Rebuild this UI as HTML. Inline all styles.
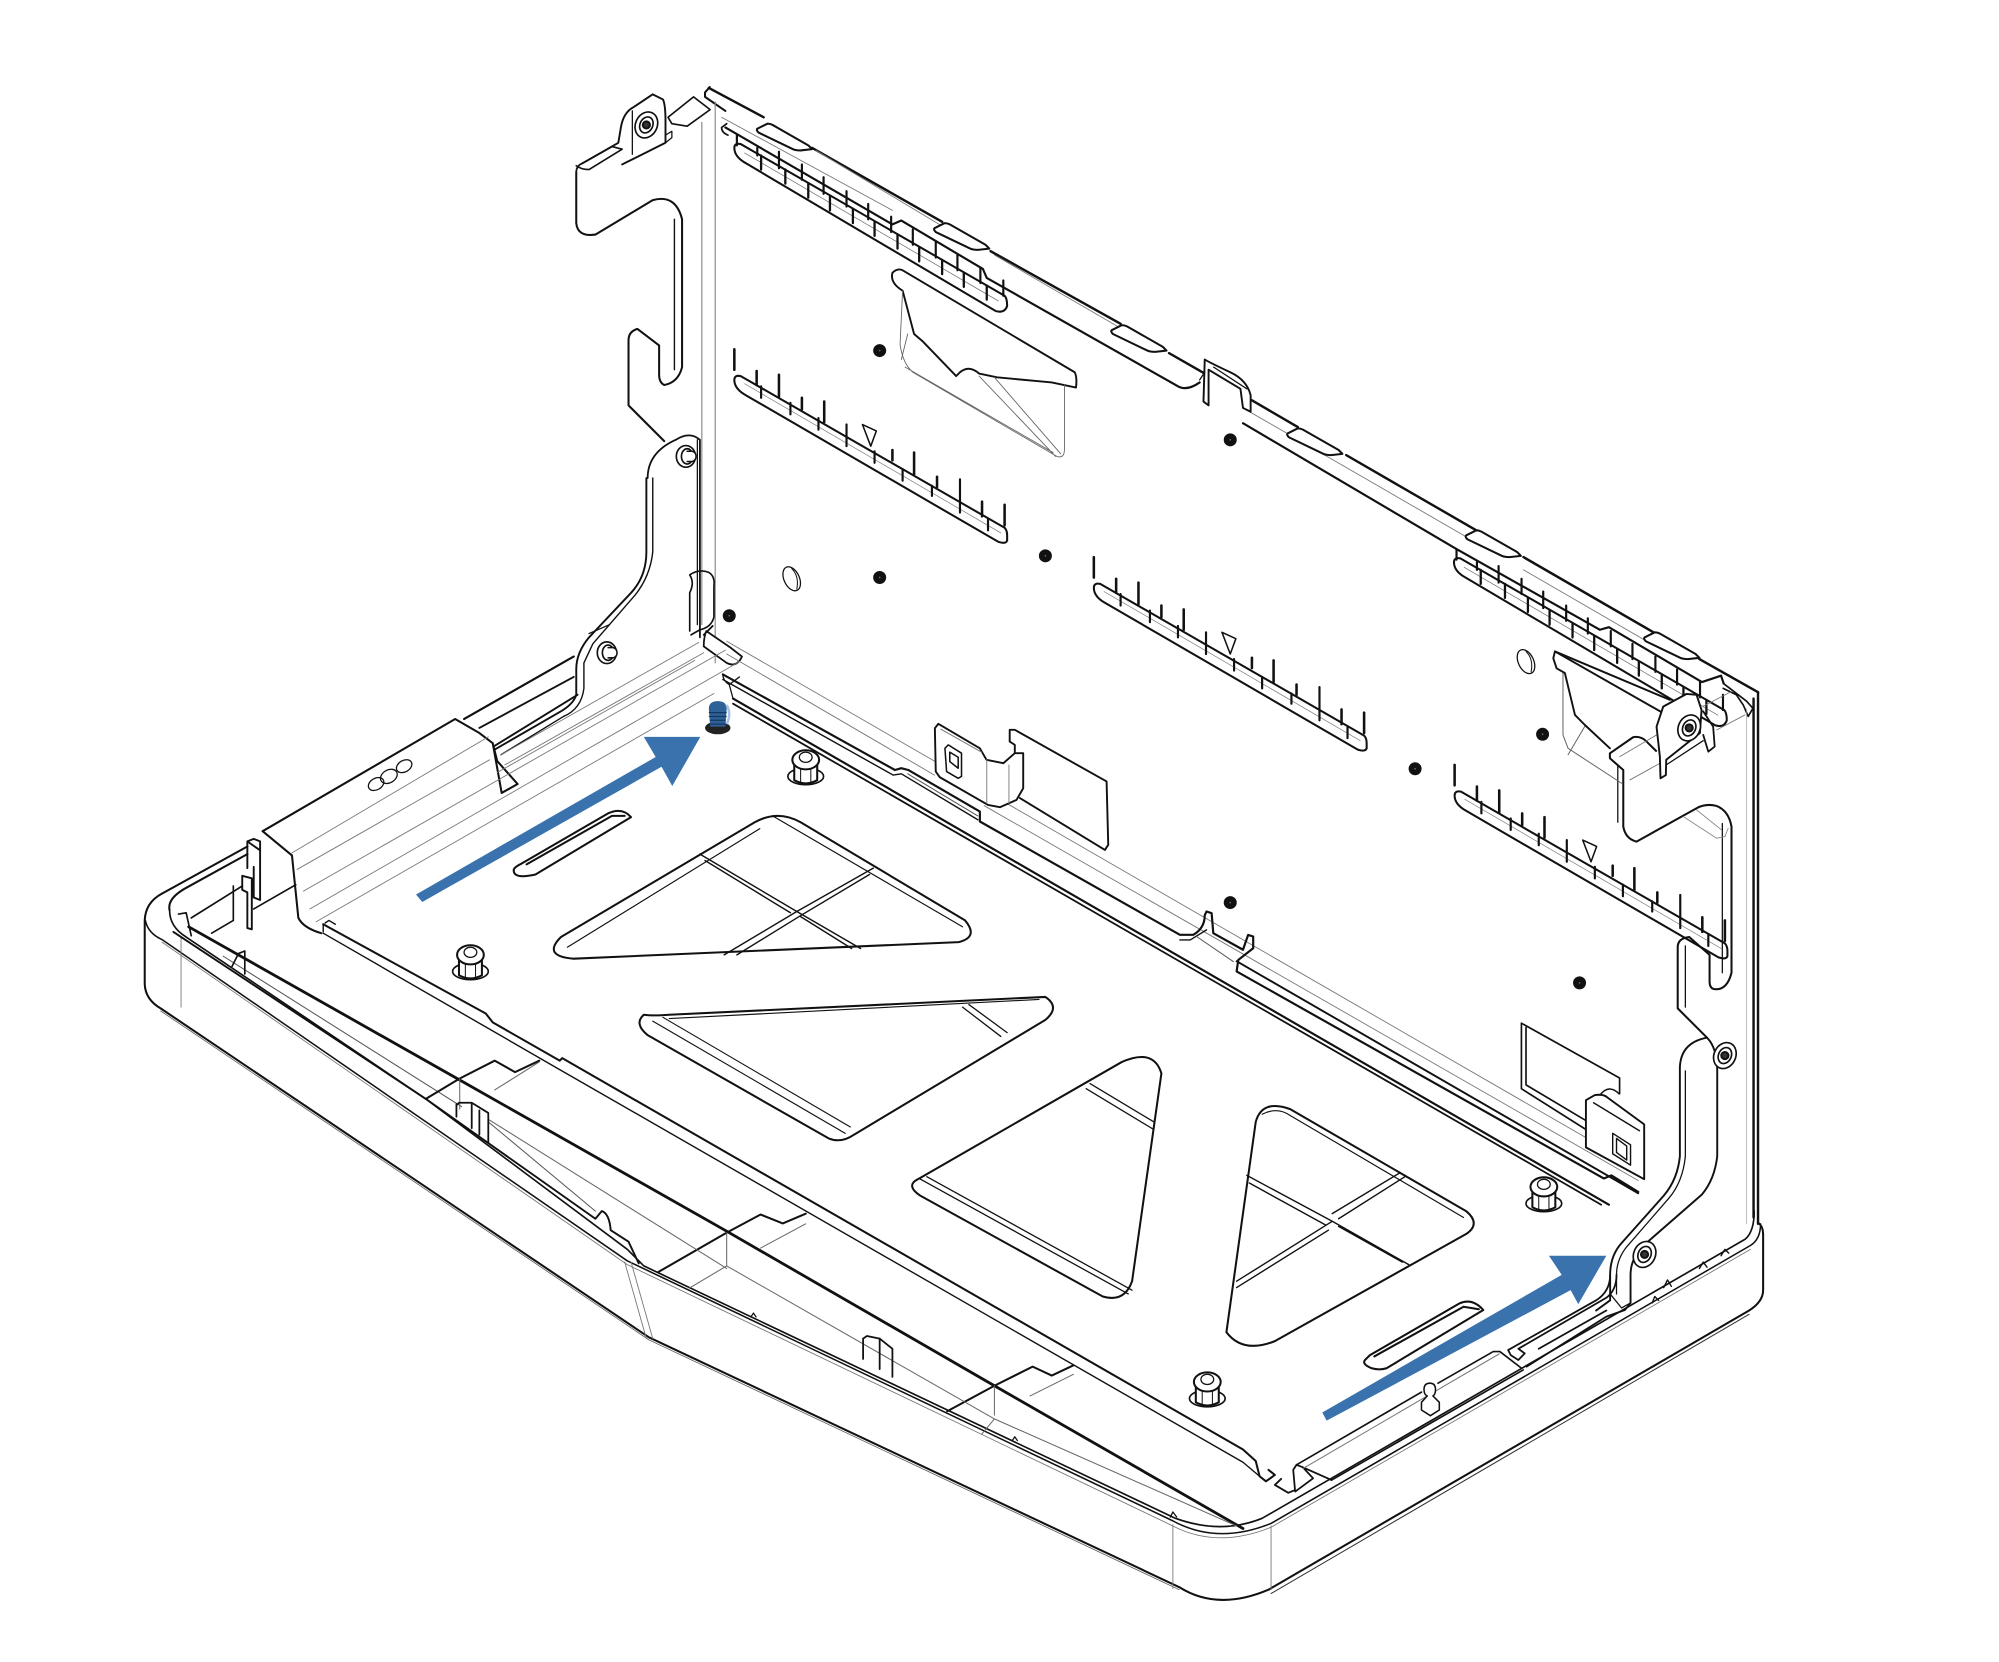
<!DOCTYPE html>
<html><head><meta charset="utf-8"><style>html,body{margin:0;padding:0;background:#fff}svg{display:block}</style></head><body>
<svg xmlns="http://www.w3.org/2000/svg" width="1999" height="1662" viewBox="0 0 1568 1303.7">
<defs>
<g id="slot" fill="none">
<path d="M581,295 L788,414 Q790,416 790,420 V424 Q789,427 783,425 L585,310 Q576,305 576,298 Q576,294 581,295Z"/>
<path d="M584,301 L785,418" stroke="#888" stroke-width=".6"/>
<path d="M597,303V312M620,316V325M642,328V337M664,333V350M686,354V363M708,368V377M731,381V389M753,376V402M775,407V416" stroke-width="1.700"/>
<path d="M576,274V290M593.500,291V302M611,294V311M629,312V321M646.500,315V331M700,353V361M717,355V372M735,374V382M770.300,393.500V405M788,396V412" stroke-width="2"/>
<path d="M676.500,333L687.400,338L683,350Z" stroke-width="1.200"/>
</g>
<g id="ladder" fill="none">
<path d="M581,113 L788,232 Q790,234 790,240 Q788,246 781,244 L585,128 Q576,123 576,116 Q576,112 581,113Z"/>
<path d="M584,120 L783,236" stroke="#777" stroke-width=".6"/>
<path d="M597,122V133M616,133V144M634,144V155M651,154V165M669,164V175M686,174V185M704,184V195M721,194V205M739,204V215M756,214V225M774,224V235" stroke-width="1.800"/>
<path d="M578,106V114M594,116V122M611,119V132M629,129V141M646,139V152M664,150V162M681,160V172M699,170V182M716,180V192M734,190V202M751,200V212M769,210V222M787,220V232" stroke-width="1.700"/>
</g>
<g id="peg" fill="none">
<ellipse cx="0" cy="7" rx="14" ry="6.500" stroke-width="1.300"/>
<path d="M-9,-5 V10 Q0,15 9,10 V-5" fill="#fff"/>
<path d="M-4,0V13M4,0V13" stroke-width=".8"/>
<ellipse cx="0" cy="-6" rx="10.500" ry="7.500" fill="#fff"/>
<ellipse cx="0" cy="-8" rx="5" ry="4" stroke-width="1"/>
</g>
<g id="dot"><circle r="4.300" fill="#111"/><circle r="1.500" fill="#666"/></g>
<g id="screw" fill="none">
<ellipse rx="8.500" ry="10.500" transform="rotate(25)" stroke-width="1.300" fill="#fff"/>
<ellipse rx="5" ry="6.500" transform="rotate(25)" stroke-width="1.300"/>
<circle r="2.800" fill="#333"/>
</g>
<g id="stud" fill="none">
<ellipse rx="7.500" ry="8.500" stroke-width="1.300" fill="#fff"/>
<ellipse cx="1" rx="4.500" ry="6" stroke-width="1.300"/>
<path d="M1,-4 H5 Q8,-3 8,0 Q8,3 5,4 H1" fill="#fff" stroke-width="1.200"/>
</g>
<path id="tab" d="M0,2 L8,-2 Q10,-2 12,-1 L40,15 L43,18 L34,19 Q30,19 28,18 L1,5 Q-1,3 0,2Z" fill="#fff"/>
</defs>

<g fill="none" stroke="#111" stroke-width="1.600" stroke-linejoin="round" stroke-linecap="round">

<!-- TRAY outer -->
<path d="M127,701 Q114,708 113.500,722 V772 Q114,784 126,791 L509,1049 L925,1245 Q955,1264 995,1247 L1372,1028 Q1383,1021 1383,1012 V968 Q1383,962 1379,959"/>
<path d="M127,701 L194,664 M364,564 L450,515" />
<path d="M133,714 Q131,705 145,697 L194,670"/>
<path d="M114,722 Q116,732 127,737 L492,989 L920,1193 Q955,1212 997,1195 L1373,977 Q1381,972 1381,960" stroke-width="1.200"/>
<path d="M133,714 Q133,727 146,735 L334,862 L492,980 L505,993 L922,1191 Q958,1204 990,1191 L1369,972 Q1376,966 1376,950" stroke-width="1.300"/>
<path d="M127,739 L492,992 L920,1197 Q955,1215 997,1198 L1373,980" stroke="#777" stroke-width=".7"/>
<path d="M126,793 L509,1051 L925,1247" stroke="#666" stroke-width=".7"/>
<path d="M997,1250 L1372,1031" stroke="#333" stroke-width=".8"/>
<path d="M142,735V790M920,1196V1246M997,1197V1247M495,990L512,1050M490,990L507,1050" stroke="#777" stroke-width=".7"/>

<!-- inner thick line -->
<path d="M148,727 L358.500,846 L568.600,965 L780,1087 L975,1199" stroke-width="2.200"/>
<path d="M136,731 L334,862 L467,956 L472,950 Q478,952 479,965 L493,974 L501,991" stroke-width="1.500"/>
<path d="M175,750 L362,868 M383,880 L467,950" stroke="#555" stroke-width=".8"/>
<path d="M334,862 L360.600,846 L388,832 L404,841 L423,832 M516,998 L570.400,966.700 L596.600,952.700 L614,959.700 L632,952 M743,1107 L780,1087 L810,1072 L825,1079 L842,1071" />
<path d="M360.600,846V870 M388,855 L423,833 M383,878 L570,995 M570,967V993 M540.600,1010.500 L570,993 M570,993 L780,1113 M596.600,979 L632,960 M780,1087V1110 M770,1125 L780,1113 M808,1095 L842,1078 M780,1113 L970,1197" stroke="#666" stroke-width=".8"/>
<path d="M358,867 L360,865 L370,865 L383,873 V896 M370,865 V885 M358,866 V876 M376,871 V890" stroke-width="1.400"/>
<path d="M677,1050 L680,1048 L690,1050 L700,1058 V1080 M690,1050 V1074 M677,1050 V1066" stroke-width="1.400"/>
<path d="M589,1033l2,-3l2,3M794,1130l2,-3l2,3M918,1190l2,-4l3,4" stroke-width="1"/>
<!-- left details -->
<path d="M194,681 V660 L199,658 L204,660 V706 L199,704 V680 M194,660 L204,667 M190,687 L197.500,689 V729 L194,728 V700 L190,698Z" stroke-width="1.500"/>
<path d="M150,720 L190,695 M183,695 V722 M166,732 L183,722 M199,713 L232,694 M140,717 L146,716 L150,734 M182,758 L187,748 L192,746 V764" stroke-width="1.300"/>
<path d="M364,564 L450,515 M376,571 L450,531 M388,585 L453,545" stroke-width="1.500"/>

<!-- BACK WALL top band -->
<path d="M556,69 L599,92 M637,116 L739,174 M777,197 L879,254 M917,277 L945,293 M982,314 L1018,335 M1056,357 L1158,416 M1195,437 L1297,496 M1333,517 L1379,543" stroke-width="1.900"/>
<path d="M553,76 V72.500 L556.700,68.300 M553,76 L569,87"/>
<path d="M569,100 L700,176 L707,173 L771,211 L774,218 L924,303 Q931,307 941,300 M975,332 L1143,431 L1255,494 L1262,492 L1335,535 L1350,530 L1352,536" stroke-width="1.700"/>
<path d="M566,92 L700,165 M640,118 L740,178 M780,200 L880,258 M975,320 L1150,421 M1195,447 L1290,502" stroke="#777" stroke-width=".7"/>
<path d="M1351.700,536 L1370,550 L1375,555.600 L1371.300,562 L1367.400,553 L1362,545 L1351.700,540 M570,97 L566,100 Q566,104 571,106" stroke-width="1.300"/>
<use href="#tab" x="594" y="99"/><use href="#tab" x="733" y="177"/><use href="#tab" x="872" y="257"/><use href="#tab" x="1010" y="338"/><use href="#tab" x="1150" y="418"/><use href="#tab" x="1290" y="498"/>

<use href="#ladder"/><use href="#ladder" x="564.500" y="325"/>
<use href="#slot"/><use href="#slot" x="282" y="163"/><use href="#slot" x="565" y="326"/>

<!-- vertical corner -->
<path d="M550.500,96 V490 M561,80 V520" stroke="#888" stroke-width=".9"/>
<path d="M1375.500,548 V955 M1379,543 V960" stroke-width="1.900"/>
<path d="M1370,556 V960" stroke="#999" stroke-width=".5"/>

<!-- left top bracket -->
<path d="M524,92 L544,76 L557,86 L539,99 L527,97 Z" fill="#fff" stroke-width="1.300"/>
<path d="M452,135 Q452,130 457,128 L480,115 L488,117 L462,133 Q456,133 452,130" stroke-width="1.300"/>
<path d="M452,135 V175 Q453,186 467,184 L512,157 Q530,152 535,172 V288 Q532,300 521,302 Q517,300 517,294 V271 L500,258 Q493,260 493,267 V318 L521,346" />
<path d="M457,128 L485,112 L487,100 Q489,88 497,84 L512,74 L520,78 Q522,82 522,95 V112 L492,127 L488,129" stroke-width="1.500"/>
<path d="M496,87 V121 M522,106 L527,103 V108 L522,112" stroke-width="1"/>
<path d="M529,172V290" stroke-width="1.100"/>
<use href="#screw" x="507" y="98"/>
<!-- lower left bracket -->
<path d="M508,375 Q508,355 530,345 Q541,338 549,345 V500" stroke-width="1.400"/>
<path d="M507,375 V433 Q507,452 495,465 L462,500 Q452,512 452,525 V545 Q450,552 440,558 L388,588" stroke-width="1.500"/>
<path d="M512,375 V433 Q510,452 498,467 L465,505 L458,520 V540 Q456,556 442,562 L393,592" stroke-width="1.100"/>
<path d="M478,490 L462,497 M547,345 V490" stroke-width="1"/>
<use href="#stud" x="538" y="358"/><use href="#stud" x="476" y="512"/>
<path d="M541,451 Q548,446 556,449 Q561,452 560,460 V484 Q558,492 549,494 L542,498 M541,451 Q545,457 541,465 V495" stroke-width="1.300"/>
<path d="M554,495 L573,508 L582,515 Q578,524 570,520 L552,507 Q552,500 554,495Z M552,498 L559,491" fill="#fff" stroke-width="1.400"/>
<use href="#dot" x="572" y="483"/>

<!-- Bend plate: left flange -->
<path d="M206,652 L357,564 L376,575 L386.500,583 L393.500,622 L406,615 L390,597 L387,585" fill="#fff"/>
<path d="M206,652 L229,671 L234,720 Q238,728 252,732" />
<path d="M229,669 L383,578 M233,682 L384,596 M238,699 L569,510 M243,713 L580,519 M248,723 L560,544 M390,606 L545,518 M393,592 L548,504 M396,600 L552,512" stroke="#777" stroke-width=".7"/>
<ellipse cx="295" cy="615" rx="6.500" ry="4.500" transform="rotate(-30 295 615)" stroke-width="1"/><ellipse cx="305" cy="609" rx="7" ry="5" transform="rotate(-30 305 609)" stroke-width="1"/><ellipse cx="317" cy="601" rx="6.500" ry="4.500" transform="rotate(-30 317 601)" stroke-width="1"/>

<!-- floor back edges -->
<path d="M570,503 L733,597 M772,620 L1285,916 M570,513 L733,608 M772,632 L1285,926" stroke="#777" stroke-width=".7"/>
<path d="M567,529 L702,604 L707,602.600 L712.400,604 L768.600,636.600 V644.400 L925.500,733.300 H936 Q945,728 945,718 L946.400,715 L950.400,716.300 L951.700,732 L975,745 L979,733.400 L983,734.600 V743.800 L971.300,753 L970,762 L1258,924.400 L1264,922 L1285,935" stroke-width="1.700"/>
<path d="M567,533 L700.600,608 L707,607 L767,643 M925.500,737.300 H933.600 L946.400,729.400" stroke-width="1.100"/>
<path d="M938.600,734.600 L967.400,754.300 M712,607 L767,640" stroke="#555" stroke-width=".8"/>
<path d="M970,754 L1285,936" stroke-width="1.500"/>
<path d="M575,548 L1262,945" stroke-width="1.700"/>
<path d="M575,552 L1256,945" stroke-width="1.400"/>
<path d="M567,529 Q567,534 572,537 L580,531 M575,548 L572,537" stroke-width="1"/>

<!-- left clip & panel -->
<path d="M792,572.500 H796 L868,613 L869.300,662.700 L866.700,666.700 L800,626 M792,572.500 V581.700 L796,584.300 V590.800" stroke-width="1.500"/>
<path d="M733.300,571.200 L736,567.800 L768.600,587 L773.800,596 L787,598.700 L796,590.800 L802.600,590.800 V618.300 L797.400,627.400 L784.300,633.200 L775,631.400 L737.200,609.700 L734,605.200 Z" fill="#fff" stroke-width="1.500"/>
<path d="M741.200,587 L743.800,584.300 L754.200,590.800 V609 L751.600,610.500 L742.500,605.200 Z M745,590 L751.600,594 V602.600 L745,597.400Z" stroke-width="1.200"/>
<path d="M738,572 L770,590" stroke="#777" stroke-width=".8"/>
<path d="M774,596V630M791.400,600V630" stroke="#888" stroke-width=".8"/>

<!-- right clip & panel -->
<path d="M1193.400,802.600 L1270.400,845.600 V858 M1193.400,802.600 V854 L1244,886 M1197,806 V851 L1244,879" stroke-width="1.300"/>
<path d="M1244,863 L1251,859 Q1258,858 1261,861 L1289.700,882 V925 L1244,900Z" fill="#fff" stroke-width="1.500"/>
<path d="M1250,865 L1286,887 M1265,889 L1279,898 V914 L1265,905Z M1268,893 L1276,899 V910 L1268,904Z" stroke-width="1.100"/>
<path d="M1255,859 Q1262,850 1270,858" stroke-width="1.200"/>

<!-- floor front edge -->
<path d="M253.500,725 L381,795 L386.500,802 L439,832 L441,830 L975,1137 L985,1146 L988,1158 L993,1162 L1000,1157 L995,1153" />
<path d="M253.500,732 L439,839 L975,1147 L988,1158" stroke-width="1.100"/>
<path d="M253.500,725 V731 M255,724 L258,722 L263,725" stroke-width="1.100"/>
<!-- hook lower corner -->
<path d="M1017,1149 L1014.400,1153 L1015.800,1168.800 L1010.500,1171 L1000,1164.800 L1005,1160 M1017,1149 L1022,1151 L1030,1159.600 L1016,1170 M1022,1151 L1044.500,1161" stroke-width="1.400"/>
<path d="M1017,1149 L1115,1092 M1128,1085 L1171.300,1060.200 H1176.500 L1193.500,1073.300" stroke-width="1.300"/>
<path d="M1022,1152 L1176,1062" stroke="#777" stroke-width=".8"/>
<path d="M1044.500,1161 L1194.800,1074.600" stroke-width="1.300"/>
<path d="M1183,1059 L1252,1020 Q1263,1013 1263,1000 M1183,1059 L1185,1063 L1191,1066.800 L1196,1061.600 L1191,1058 L1260,1018 Q1268,1012 1268,1000 M1197.500,1072 L1260,1032.800 L1274.600,1027.600 L1279,1022 M1207,1058 L1260,1028" stroke-width="1.400"/>
<path d="M1121.600,1085 Q1126,1085 1126,1090 Q1126,1094 1124,1095 L1129,1100 V1106 L1122,1110.500 L1115,1106 V1100 L1119.500,1095 Q1117,1094 1117,1090 Q1117,1085 1121.600,1085Z" fill="#fff" stroke-width="1.200"/>
<path d="M1296,1022l2,-5l3,3M1305,1010l3,-6l3,5M1333,995l3,-5l3,4M1350,985l3,-5l3,3" stroke-width="1.100"/>

<!-- Cutouts -->
<path d="M440,735 L592,645 Q610,635 628,645 L757,722 Q768,735 752,739 L450,752 Q425,750 440,735Z"/>
<path d="M445,743 L596,650 M606,640 L755,727" stroke-width=".9"/>
<path d="M549,670 L625,715 L675,744 M553,675 L620,716 M685,681 L625,715 L568,749 M682,686 L630,717 L578,749 M628,719 L668,744" stroke-width="1.100"/>

<path d="M505,796 Q497,803 508,812 L650,893 Q660,897 670,890 L820,800 Q832,790 820,782 L525,796 Q512,797 505,796Z"/>
<path d="M512,801 L663,889 M520,798 L667,884 M525,799 L815,784" stroke-width=".9"/>
<path d="M755,790 L785,813 M760,788 L790,810" stroke-width="1"/>

<path d="M720,925 L880,833 Q905,822 911,842 L888,1005 Q882,1022 865,1017 L722,938 Q710,930 720,925Z"/>
<path d="M722,925 L885,1015 M727,923 L888,1012" stroke-width="1"/>
<path d="M855,850 L905,880 M852,854 L905,886" stroke-width="1"/>

<path d="M985,880 Q990,862 1012,870 L1150,950 Q1162,960 1150,968 L1000,1052 Q975,1062 962,1045 L985,880Z"/>
<path d="M990,874 Q1002,868 1012,875 L1148,955" stroke-width=".9"/>
<path d="M978,922 L1045,958 L1105,992 M980,928 L1040,961 M1050,956 L1102,923 M1098,920 L1045,952 M1045,958 L970,1005 M1042,965 L970,1010 M1050,962 L1100,990" stroke-width="1.100"/>

<path d="M408,678 L477,638 Q488,633 495,641 L420,686 Q402,690 403,682Q404,680 408,678Z M413,678 L480,640 L490,640" />
<path d="M1074.600,1063 L1145,1022.300 Q1155,1018 1163.500,1027.600 L1087.600,1073.300 Q1082,1075 1076,1073.300 Q1068,1070 1070.700,1066.800Z M1078,1064 L1148,1025 L1160,1027" />

<!-- Right bracket: hole outline (slot shows through) -->
<path d="M1262.800,590.900 L1281,578.300 Q1287,577 1291.600,581.700 L1299,589 M1262.800,590.900 V594.800 L1273.300,604 V648.400 Q1275,658 1283.700,660.200 L1330.800,634 Q1338,630 1346.500,632.200 Q1356,636 1358.200,648.400 V763 Q1355,776 1346,776 Q1341,776 1341,770 V749 L1325,735 Q1316,736 1316,743 V791 L1339,814"/>
<path d="M1269,600 V645 M1351,646 V763 M1322,742 V790" stroke-width="1"/>
<path d="M1320.300,640.500 L1346.500,657.500 L1353,656.200 L1355.600,649.700 M1330.800,635.300 L1350.400,651" stroke="#888" stroke-width=".7"/>
<path d="M1278.500,611.800 L1307,596 M1270.600,593.500 L1299.400,576.500 M1336,554 L1358,542.500 M1346.500,572.600 L1368.700,560.800" stroke="#777" stroke-width=".7"/>
<path d="M1226,526.800 V576.500 L1230,587 L1272,614.400 M1243,570 L1230,592" stroke="#666" stroke-width=".8"/>
<path d="M1219.700,511 L1309.900,549 M1219.700,511 L1218.400,516.400 L1221,524.200 L1227.500,528 L1235.400,560.800 L1243.200,568.700 L1262.800,587" stroke-width="1.500"/>
<path d="M1219.700,511 L1318,567" stroke-width="1.500"/>
<path d="M1302.500,610.500 L1302,593.500 L1299.400,570 L1304.600,554.300 L1323,544.300 L1330.800,545 L1334.700,557 L1333.400,575 L1307,596 L1306.700,608 Z" fill="#fff" stroke-width="1.500"/>
<path d="M1336,558 L1343.800,570 L1345,585.600 L1340,589.600 L1336,576.500" stroke-width="1.400"/>
<path d="M1307,600 L1336,581" stroke-width="1"/>
<use href="#screw" x="1325" y="571"/>

<path d="M1339,814 Q1317,818 1317.700,840 V907 Q1316,925 1305,938 L1272,975 Q1263,985 1263,1000 V1020 L1252,1028" stroke-width="1.500"/>
<path d="M1339,814 Q1347,822 1347,840 V907 Q1345,925 1335,937 L1288,978 Q1279,988 1279,1000 V1022" stroke-width="1.500"/>
<path d="M1322,840 V907 Q1320,927 1309,940 L1276,978 Q1268,988 1268,1000 V1015" stroke-width="1"/>
<path d="M1279,1022 L1272,1026 L1263,1015" stroke-width="1"/>
<use href="#screw" x="1353" y="828"/><use href="#screw" x="1290" y="984"/>

<!-- Dots & holes -->
<ellipse cx="621" cy="454" rx="6" ry="10" transform="rotate(-25 621 454)" stroke-width="1"/>
<path d="M621,446 Q627,452 625,462" stroke-width=".8"/>
<ellipse cx="1197" cy="519" rx="6" ry="10" transform="rotate(-25 1197 519)" stroke-width="1"/>
<path d="M1197,511 Q1203,517 1201,527" stroke-width=".8"/>
<use href="#dot" x="690" y="275"/><use href="#dot" x="965" y="345"/><use href="#dot" x="690" y="453"/><use href="#dot" x="820" y="436"/><use href="#dot" x="1210" y="576"/><use href="#dot" x="1110" y="603"/><use href="#dot" x="965" y="708"/><use href="#dot" x="1239" y="771"/>

<!-- big upper pocket -->
<path d="M700,214 Q704,210 708,212 L843,292 Q845,296 844,304 L825,300 L782,296 L768,293 Q760,286 753,292 L750,295 L724,268 L717,262 L708,228 Q698,222 700,214Z" stroke-width="1.500"/>
<path d="M708,228 L706,270 Q708,285 716,292 L829,358 Q835,360 835,352 V302 M712,262 L707,282 M768,295 L828,358 M780,296 L832,356 M710,288 L826,355" stroke="#666" stroke-width=".7"/>

<!-- chassis clip -->
<path d="M945,282 Q948,284 965,292 Q978,298 981,310 V323 L975,320 L973,305 L948,290 V318 L944,315 Z" fill="#fff" stroke-width="1.500"/>
<path d="M945,292 L941,298 M952,288 L978,305" stroke-width="1"/>

<!-- pegs -->
<use href="#peg" x="369" y="755"/><use href="#peg" x="632" y="602"/><use href="#peg" x="1211" y="937"/><use href="#peg" x="947" y="1090"/>
</g>

<!-- blue screw -->
<ellipse cx="563" cy="571" rx="10" ry="5" fill="#222"/>
<path d="M556,556 Q556,550 563,550 Q570,550 570,556 L569,570 H557Z" fill="#2f6199"/>
<path d="M556,559H570M556,562H570M557,565H569M557,568H569" stroke="#16385f" stroke-width="1"/>
<path d="M570,553 Q574,560 570,568" stroke="#a9c4e2" stroke-width="2" fill="none"/>

<!-- blue arrows -->
<polygon points="326.300,701.700 514.300,593.800 505,578 549.300,578 527.300,616.600 518.900,601.500 331.200,707.500" fill="#3a72ae"/>
<polygon points="1037.200,1108 1225,1000 1215,985 1260,985 1238,1023 1232,1012 1040.600,1114.400" fill="#3a72ae"/>
</svg>
</body></html>
